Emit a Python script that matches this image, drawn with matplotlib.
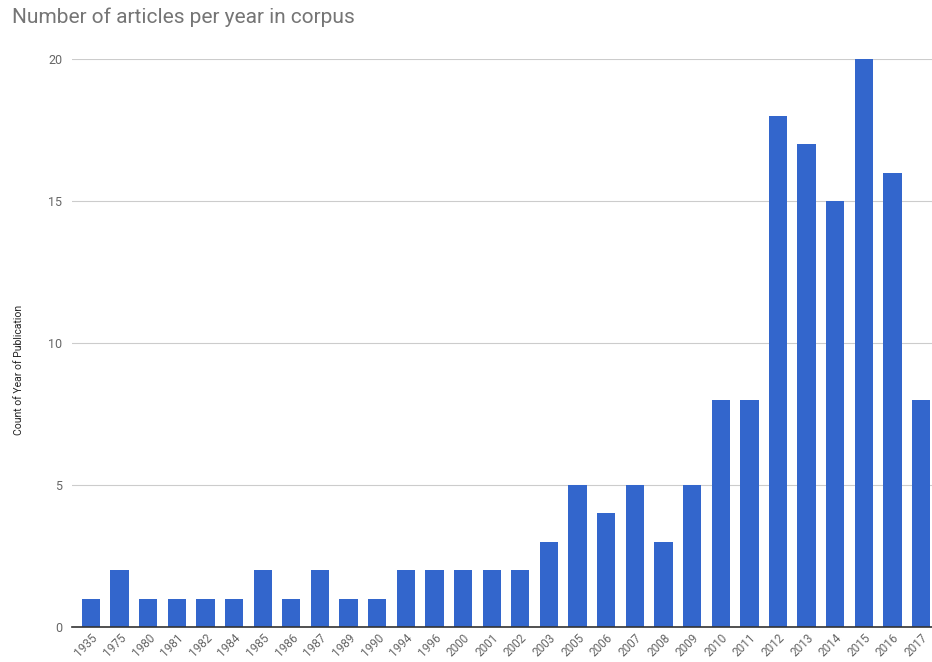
import matplotlib.pyplot as plt

years = ['1935', '1975', '1980', '1981', '1982', '1984', '1985', '1986', '1987',
         '1989', '1990', '1994', '1996', '2000', '2001', '2002', '2003', '2005',
         '2006', '2007', '2008', '2009', '2010', '2011', '2012', '2013', '2014',
         '2015', '2016', '2017']
counts = [1, 2, 1, 1, 1, 1, 2, 1, 2, 1, 1, 2, 2, 2, 2, 2, 3, 5, 4, 5, 3, 5,
          8, 8, 18, 17, 15, 20, 16, 8]
y_ticks = [0, 5, 10, 15, 20]

plt.rcParams['font.family'] = ['Roboto', 'DejaVu Sans']

fig = plt.figure(figsize=(9.32, 6.62), dpi=100)
ax = fig.add_axes([72 / 932, 1 - 627 / 662, 1 - 72 / 932, (627 - 59) / 662])

x = list(range(len(years)))
ax.bar(x, counts, width=0.64, color='#3366cc', zorder=3)

ax.set_xlim(-0.66, len(years) - 1 + 0.38)
ax.set_ylim(0, 20)
ax.set_yticks(y_ticks)
ax.set_yticklabels([str(t) for t in y_ticks], color='#666666', fontsize=9)
ax.set_xticks(x)
ax.set_xticklabels(years, rotation=45, ha='right', rotation_mode='anchor',
                   color='#666666', fontsize=8.5)
ax.tick_params(axis='both', length=0)
ax.tick_params(axis='y', pad=7)
ax.tick_params(axis='x', pad=3)

ax.grid(axis='y', color='#cccccc', linewidth=0.8, zorder=0)
for side in ['top', 'right', 'left']:
    ax.spines[side].set_visible(False)
ax.spines['bottom'].set_color('#333333')
ax.spines['bottom'].set_linewidth(1.2)
ax.spines['bottom'].set_zorder(4)

# axis title placed in figure pixels
fig.text(19 / 932, 1 - 370 / 662, 'Count of Year of Publication', rotation=90,
         fontsize=7.5, color='#222222', ha='center', va='center')

fig.text(12 / 932, 1 - 17 / 662, 'Number of articles per year in corpus',
         fontsize=15, color='#757575', va='center', ha='left')

fig.savefig('out.png', dpi=100)
